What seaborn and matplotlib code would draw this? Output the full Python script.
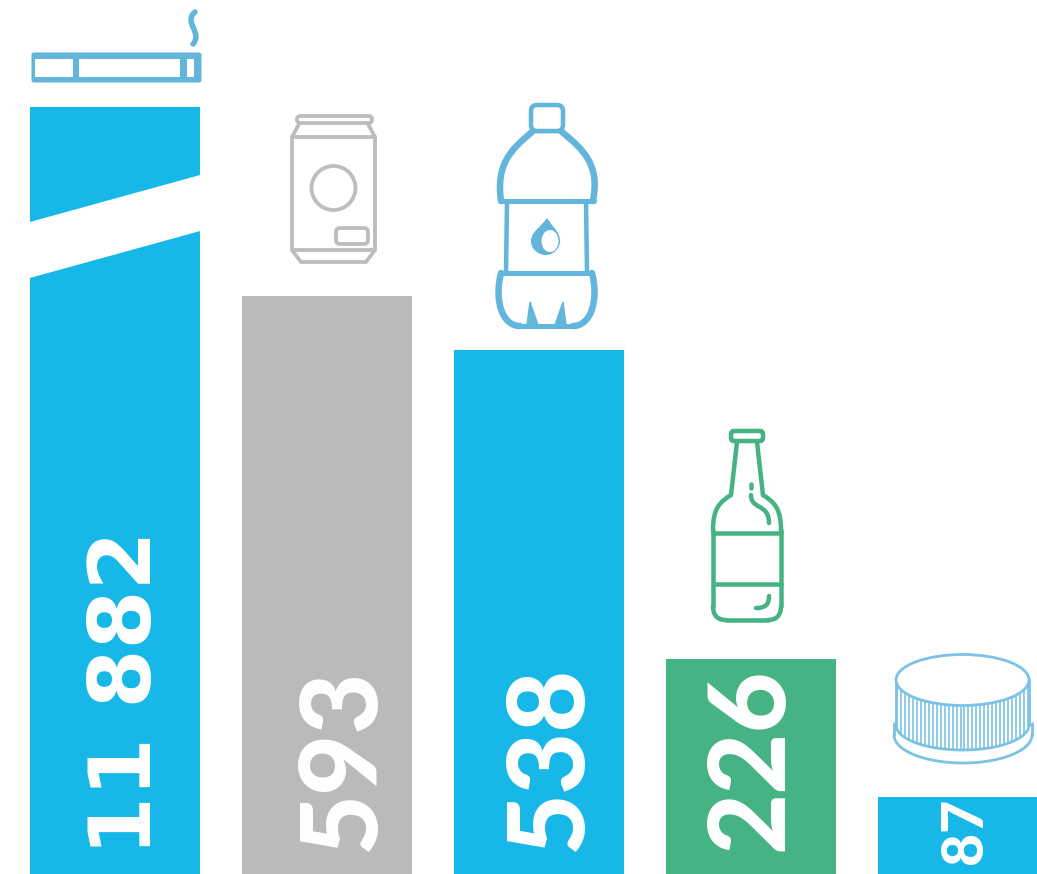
import numpy as np
import pandas as pd
import matplotlib
matplotlib.use('Agg')
import matplotlib.pyplot as plt
from matplotlib.patches import Circle, Ellipse, FancyBboxPatch, PathPatch, Polygon, Rectangle
from matplotlib.path import Path
import seaborn as sns

categories = ['Cigarette', 'Canette', 'Bouteille plastique', 'Bouteille verre', 'Bouchon']
values = [11882, 593, 538, 226, 87]
value_labels = ['11 882', '593', '538', '226', '87']
bar_colors = ['#17B8E7', '#BABABA', '#17B8E7', '#46B384', '#17B8E7']

BLUE_ICON = '#62B5DB'
GREY_ICON = '#BDBDBD'
GREEN_ICON = '#46B384'
CAP_ICON = '#7CC3E3'

sns.set_theme(style='white')
plt.rcParams['font.family'] = ['Lato', 'DejaVu Sans']

W, H = 1037, 874
fig = plt.figure(figsize=(W / 100, H / 100), dpi=100)

# the bars: first one runs off the top of the axes, hence the break drawn later
ax = fig.add_axes([0, 0, 1, (H - 107) / H])
df = pd.DataFrame({'item': categories, 'n': values})
sns.barplot(data=df, x='item', y='n', hue='item', palette=bar_colors, order=categories,
            hue_order=categories, width=0.802, saturation=1, legend=False, linewidth=0, ax=ax)
ax.set_xlim(-115 / 212, (W - 115) / 212)
ax.set_ylim(9, 784)
ax.axis('off')

# overlay in pixel coords for the icons and labels
ov = fig.add_axes([0, 0, 1, 1])
ov.set_xlim(0, W)
ov.set_ylim(H, 0)
ov.axis('off')
ov.patch.set_alpha(0)


def stroke(pts, color, lw=3.8, curve=False, z=3):
    if curve:
        codes = [Path.MOVETO] + [Path.CURVE4] * (len(pts) - 1)
    else:
        codes = [Path.MOVETO] + [Path.LINETO] * (len(pts) - 1)
    ov.add_patch(PathPatch(Path(pts, codes), fc='none', ec=color, lw=lw * 0.72,
                           capstyle='round', joinstyle='round', zorder=z))


def round_box(x0, y0, x1, y1, r, color, lw=3.8, fc='none'):
    ov.add_patch(FancyBboxPatch((x0 + r, y0 + r), x1 - x0 - 2 * r, y1 - y0 - 2 * r,
                                boxstyle=f'round,pad={r},rounding_size={r}',
                                fc=fc, ec=color, lw=lw * 0.72, zorder=3))


# break in the first bar
ov.add_patch(Polygon([(28, 222.5), (202, 174.5), (202, 230.5), (28, 278.5)], fc='white', ec='none', zorder=2))

# cigarette
round_box(32, 53, 201, 82, 2, BLUE_ICON, lw=1, fc=BLUE_ICON)
for x0, x1 in [(35, 73), (79, 180), (187, 194)]:
    ov.add_patch(Rectangle((x0, 59), x1 - x0, 18, fc='white', ec='none', zorder=4))
stroke([(195, 12), (183, 22), (203, 33), (193, 44)], BLUE_ICON, lw=5.5, curve=True)

# can
round_box(297, 116, 372, 123, 3, GREY_ICON)
stroke([(299, 124), (292, 137), (292, 250), (301, 262), (366, 262), (375, 250), (375, 137), (368, 124)], GREY_ICON)
stroke([(292, 137), (375, 137)], GREY_ICON)
stroke([(292, 250), (375, 250)], GREY_ICON)
ov.add_patch(Circle((333.5, 188), 22, fc='none', ec=GREY_ICON, lw=3.8 * 0.72, zorder=3))
round_box(336, 228, 368, 244, 4, GREY_ICON)

# plastic bottle
round_box(531, 105, 563, 131, 6, BLUE_ICON, lw=4.5)
stroke([(532, 132), (510, 150), (496, 165), (501, 201)], BLUE_ICON, lw=6.5, curve=True)
stroke([(562, 132), (584, 150), (600, 165), (593, 201)], BLUE_ICON, lw=6.5, curve=True)
stroke([(532, 132), (562, 132)], BLUE_ICON, lw=2.5)
stroke([(501, 201), (594, 201)], BLUE_ICON, lw=5)
stroke([(507, 201), (506, 273)], BLUE_ICON, lw=4.5)
stroke([(586, 201), (587, 273)], BLUE_ICON, lw=4.5)
stroke([(501, 273), (592, 273)], BLUE_ICON, lw=5)
stroke([(501, 273), (494, 300), (502, 326), (520, 326)], BLUE_ICON, lw=6.5, curve=True)
stroke([(592, 273), (599, 300), (591, 326), (573, 326)], BLUE_ICON, lw=6.5, curve=True)
stroke([(520, 326), (573, 326)], BLUE_ICON, lw=5)
ov.add_patch(Polygon([(527, 325), (530, 302), (538, 325)], fc=BLUE_ICON, ec=BLUE_ICON, lw=1, zorder=3))
ov.add_patch(Polygon([(566, 325), (563, 302), (555, 325)], fc=BLUE_ICON, ec=BLUE_ICON, lw=1, zorder=3))
ov.add_patch(PathPatch(Path([(547, 218), (540, 228), (531, 232), (531, 241), (531, 250), (539, 255), (546, 255),
                             (553, 255), (560, 249), (560, 241), (560, 232), (553, 227), (547, 218)],
                            [Path.MOVETO] + [Path.CURVE4] * 12), fc=BLUE_ICON, ec='none', zorder=3))
ov.add_patch(Ellipse((550, 241), 17, 22, fc='white', ec='none', zorder=4))

# glass bottle
round_box(731, 431, 763, 441, 3, GREEN_ICON, lw=4.5)
stroke([(737, 442), (731, 495)], GREEN_ICON, lw=4.5)
stroke([(757, 442), (763, 495)], GREEN_ICON, lw=4.5)
stroke([(731, 495), (720, 502), (713, 508), (713, 530)], GREEN_ICON, lw=4.5, curve=True)
stroke([(763, 495), (774, 502), (781, 508), (781, 530)], GREEN_ICON, lw=4.5, curve=True)
stroke([(713, 530), (713, 606)], GREEN_ICON, lw=4.5)
stroke([(781, 530), (781, 606)], GREEN_ICON, lw=4.5)
stroke([(713, 606), (713, 616), (718, 620), (726, 620)], GREEN_ICON, lw=4.5, curve=True)
stroke([(781, 606), (781, 616), (776, 620), (768, 620)], GREEN_ICON, lw=4.5, curve=True)
stroke([(726, 620), (768, 620)], GREEN_ICON, lw=4.5)
stroke([(713, 533), (781, 533)], GREEN_ICON, lw=4.5)
stroke([(713, 584), (781, 584)], GREEN_ICON, lw=4.5)
stroke([(751, 484), (751, 488)], GREEN_ICON, lw=4.5)
stroke([(751, 495), (751, 510), (769, 503), (769, 523)], GREEN_ICON, lw=4.5, curve=True)
stroke([(769, 596), (769, 604), (766, 608), (756, 608)], GREEN_ICON, lw=4.5, curve=True)

# bottle cap
ribs = np.linspace(897, 1028, 34)
for rx in ribs:
    u = (rx - 962.5) / 66.5
    arc = np.sqrt(1 - u * u)
    ov.plot([rx, rx], [680 + 25.5 * arc, 725 + 25 * arc], color=CAP_ICON, lw=1.2, zorder=3)
ov.add_patch(Ellipse((962.5, 680), 133, 51, fc='white', ec=CAP_ICON, lw=2.8 * 0.72, zorder=4))
t = np.linspace(0, np.pi, 60)
stroke(list(zip(962.5 + 66.5 * np.cos(t), 725 + 25 * np.sin(t))), CAP_ICON, lw=2.8)
stroke([(896, 680), (896, 725)], CAP_ICON, lw=2.8)
stroke([(1029, 680), (1029, 725)], CAP_ICON, lw=2.8)
stroke(list(zip(963 + 69 * np.cos(t), 735 + 28 * np.sin(t))), CAP_ICON, lw=2.8)
stroke([(894, 723), (894, 735)], CAP_ICON, lw=2.8)
stroke([(1032, 723), (1032, 735)], CAP_ICON, lw=2.8)

# labels, read bottom to top
label_x = [127, 343, 550, 751, 965]
label_y = [855, 851, 851, 851, 864]
label_size = [61, 76, 77, 76, 41]
label_font = ['DejaVu Sans', 'Lato', 'Lato', 'Lato', 'Lato']
for lab, lx, ly, fs, fam in zip(value_labels, label_x, label_y, label_size, label_font):
    weight = 'bold' if fam == 'DejaVu Sans' else 'black'
    ov.text(lx, ly, lab, rotation=90, ha='center', va='bottom', color='white',
            fontsize=fs, fontweight=weight, family=fam, zorder=5)

fig.savefig('out.png', dpi=100)
